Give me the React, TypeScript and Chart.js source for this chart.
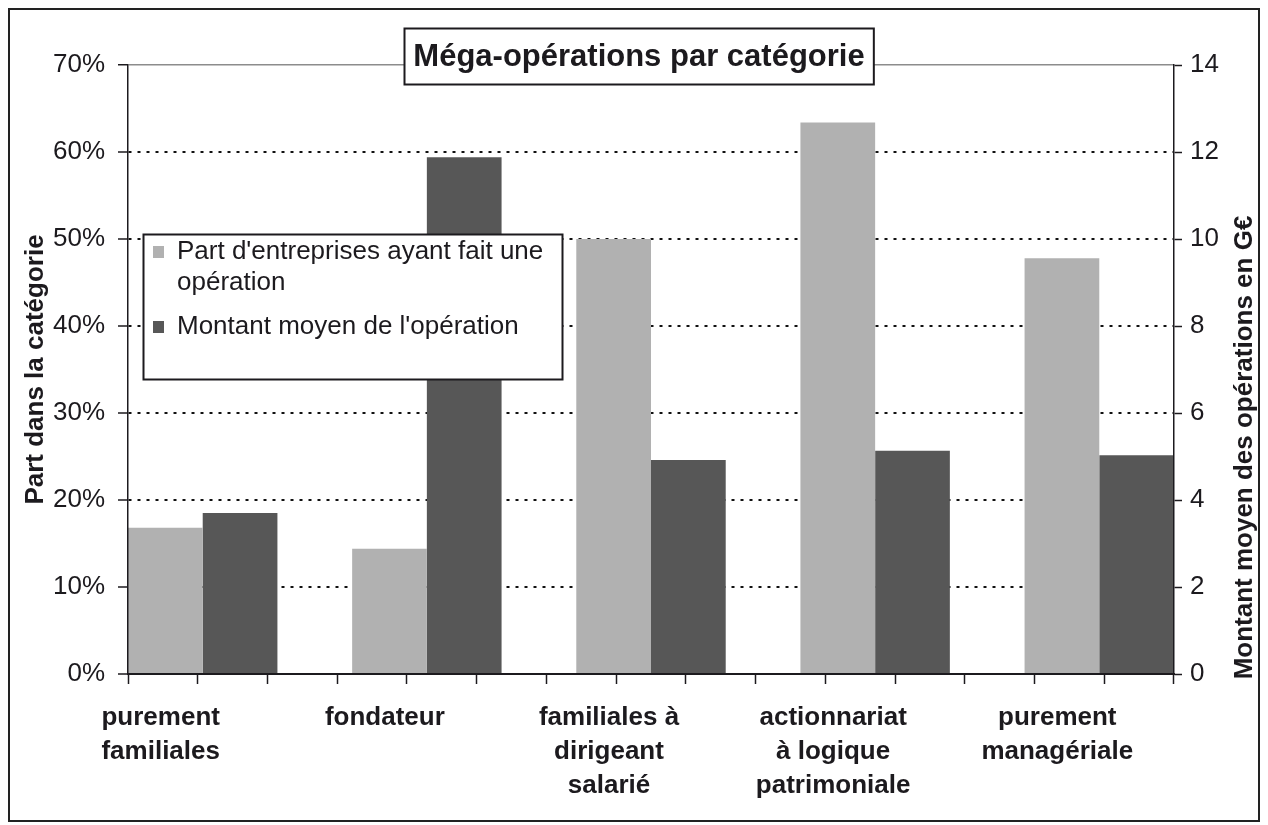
import React, { useEffect, useRef } from 'react';
import { Chart, registerables } from 'chart.js';

Chart.register(...registerables);

// ---------- data ----------
const categories: string[][] = [
  ['purement', 'familiales'],
  ['fondateur'],
  ['familiales à', 'dirigeant', 'salarié'],
  ['actionnariat', 'à logique', 'patrimoniale'],
  ['purement', 'managériale'],
];
const partValues = [16.8, 14.4, 50.0, 63.4, 47.8]; // % (left axis)
const montantValues = [3.7, 11.88, 4.92, 5.13, 5.03]; // G€ (right axis)
const seriesLabels = ["Part d'entreprises ayant fait une opération", "Montant moyen de l'opération"];
const chartTitle = 'Méga-opérations par catégorie';
const leftAxisTitle = 'Part dans la catégorie';
const rightAxisTitle = 'Montant moyen des opérations en G€';
const leftAxisMax = 70;
const leftAxisStep = 10;
const rightAxisMax = 14;
const rightAxisStep = 2;

// ---------- styles ----------
const FONT = "'Liberation Sans', Arial, Helvetica, sans-serif";
const INK = '#1c1a1e';
const LIGHT = '#b1b1b1';
const DARK = '#575757';

const decorPlugin = {
  id: 'decor',
  afterDraw(chart: any) {
    const { ctx, chartArea } = chart;
    ctx.save();

    // right axis title (reads bottom to top)
    ctx.font = `bold 26px ${FONT}`;
    ctx.fillStyle = INK;
    ctx.textAlign = 'center';
    ctx.textBaseline = 'middle';
    ctx.save();
    ctx.translate(chart.width - 13, (chartArea.top + chartArea.bottom) / 2 + 78);
    ctx.rotate(-Math.PI / 2);
    ctx.fillText(rightAxisTitle, 0, 0);
    ctx.restore();

    // boxed title
    ctx.font = `bold 31px ${FONT}`;
    const tw = ctx.measureText(chartTitle).width;
    const cx = (chartArea.left + chartArea.right) / 2 - 12;
    const bw = tw + 18;
    const bx = Math.round(cx - bw / 2) + 0.5;
    const by = 18.5;
    const bh = 56;
    ctx.fillStyle = '#ffffff';
    ctx.fillRect(bx, by, bw, bh);
    ctx.strokeStyle = INK;
    ctx.lineWidth = 2;
    ctx.strokeRect(bx, by, bw, bh);
    ctx.fillStyle = INK;
    ctx.fillText(chartTitle, cx, by + bh / 2 + 1);

    // legend box
    const lx = 133.5, ly = 224.5, lw = 419, lh = 145;
    ctx.fillStyle = '#ffffff';
    ctx.fillRect(lx, ly, lw, lh);
    ctx.strokeStyle = INK;
    ctx.lineWidth = 2;
    ctx.strokeRect(lx, ly, lw, lh);

    ctx.font = `26px ${FONT}`;
    ctx.textAlign = 'left';
    ctx.textBaseline = 'middle';
    const textX = 167;
    const maxW = lx + lw - textX - 8;
    const lineH = 31;
    let y = 242;
    chart.data.datasets.forEach((ds: any) => {
      const words = String(ds.label).split(' ');
      const lines: string[] = [];
      let cur = '';
      words.forEach((w) => {
        const test = cur ? cur + ' ' + w : w;
        if (ctx.measureText(test).width > maxW && cur) {
          lines.push(cur);
          cur = w;
        } else {
          cur = test;
        }
      });
      if (cur) lines.push(cur);
      ctx.fillStyle = ds.backgroundColor;
      ctx.fillRect(143, y - 6, 11, 12);
      ctx.fillStyle = INK;
      lines.forEach((ln, i) => ctx.fillText(ln, textX, y + i * lineH));
      y += (lines.length - 1) * lineH + 44;
    });

    ctx.restore();
  },
};

export default function App() {
  const ref = useRef<HTMLCanvasElement>(null);

  useEffect(() => {
    if (!ref.current) return;
    const isTop = (c: any) => c && c.tick && c.tick.value === leftAxisMax;
    const isZero = (c: any) => c && c.tick && c.tick.value === 0;
    const chart = new Chart(ref.current, {
      type: 'bar',
      data: {
        labels: categories as any,
        datasets: [
          {
            label: seriesLabels[0],
            data: partValues,
            backgroundColor: LIGHT,
            borderWidth: 0,
            yAxisID: 'y',
            xAxisID: 'x',
            categoryPercentage: 2 / 3,
            barPercentage: 1,
          },
          {
            label: seriesLabels[1],
            data: montantValues,
            backgroundColor: DARK,
            borderWidth: 0,
            yAxisID: 'y1',
            xAxisID: 'x',
            categoryPercentage: 2 / 3,
            barPercentage: 1,
          },
        ],
      },
      options: {
        responsive: false,
        animation: false,
        events: [],
        layout: { padding: { top: 55, left: 0, right: 0, bottom: 0 } },
        plugins: {
          legend: { display: false },
          title: { display: false },
          tooltip: { enabled: false },
        },
        scales: {
          x: {
            type: 'category',
            position: 'bottom',
            weight: 1,
            offset: false,
            grid: { display: false, drawTicks: false },
            border: { display: false },
            ticks: {
              color: INK,
              font: { family: FONT, size: 26, weight: 'bold', lineHeight: 34 / 26 },
              padding: 17,
              labelOffset: -42,
              maxRotation: 0,
              autoSkip: false,
            },
            afterBuildTicks: (scale: any) => {
              // each category = 3 slots (two bars + gap); 14 slots across the plot
              scale.ticks = categories.map((_, i) => ({ value: i }));
              scale._startValue = -1 / 3;
              scale._valueRange = (categories.length * 3 - 1) / 3;
            },
            afterFit: (scale: any) => {
              scale.height = 136;
            },
          },
          x2: {
            type: 'linear',
            position: 'bottom',
            weight: 0,
            min: 0,
            max: categories.length * 3 - 1,
            ticks: { display: false, stepSize: 1 },
            grid: {
              display: true,
              drawOnChartArea: false,
              drawTicks: true,
              tickLength: 10,
              tickColor: INK,
              tickWidth: 1.5,
            },
            border: { display: true, color: INK, width: 2, z: 1 },
          },
          y: {
            type: 'linear',
            position: 'left',
            min: 0,
            max: leftAxisMax,
            ticks: {
              stepSize: leftAxisStep,
              color: INK,
              font: { family: FONT, size: 26 },
              padding: 13,
              callback: (v: any) => `${v}%`,
            },
            grid: {
              color: (c: any) => (isTop(c) ? '#8c8c8c' : isZero(c) ? 'rgba(0,0,0,0)' : '#111111'),
              lineWidth: (c: any) => (isTop(c) ? 1.5 : 2),
              tickBorderDash: [],
              drawTicks: true,
              tickLength: 10,
              tickColor: INK,
              tickWidth: 1.5,
            },
            border: {
              display: true,
              color: INK,
              width: 1.5,
              z: 1,
              dash: (c: any) => (c && c.tick && !isTop(c) ? [3, 6] : []),
            },
            title: {
              display: true,
              text: leftAxisTitle,
              color: INK,
              font: { family: FONT, size: 26, weight: 'bold', lineHeight: 1.2 },
              padding: { top: 10, bottom: 0 },
            },
            afterFit: (scale: any) => {
              scale.width = 118;
            },
          },
          y1: {
            type: 'linear',
            position: 'right',
            min: 0,
            max: rightAxisMax,
            ticks: {
              stepSize: rightAxisStep,
              color: INK,
              font: { family: FONT, size: 26 },
              padding: 8,
            },
            grid: {
              drawOnChartArea: false,
              drawTicks: true,
              tickLength: 8,
              tickColor: INK,
              tickWidth: 1.5,
            },
            border: { display: true, color: INK, width: 1.5, z: 1 },
            afterFit: (scale: any) => {
              scale.width = 84;
            },
          },
        },
      } as any,
      plugins: [decorPlugin],
    });
    return () => chart.destroy();
  }, []);

  return (
    <div
      style={{
        width: 1248,
        height: 810,
        border: '2px solid #222',
        background: '#ffffff',
      }}
    >
      <canvas ref={ref} width={1248} height={810} style={{ display: 'block' }} />
    </div>
  );
}
